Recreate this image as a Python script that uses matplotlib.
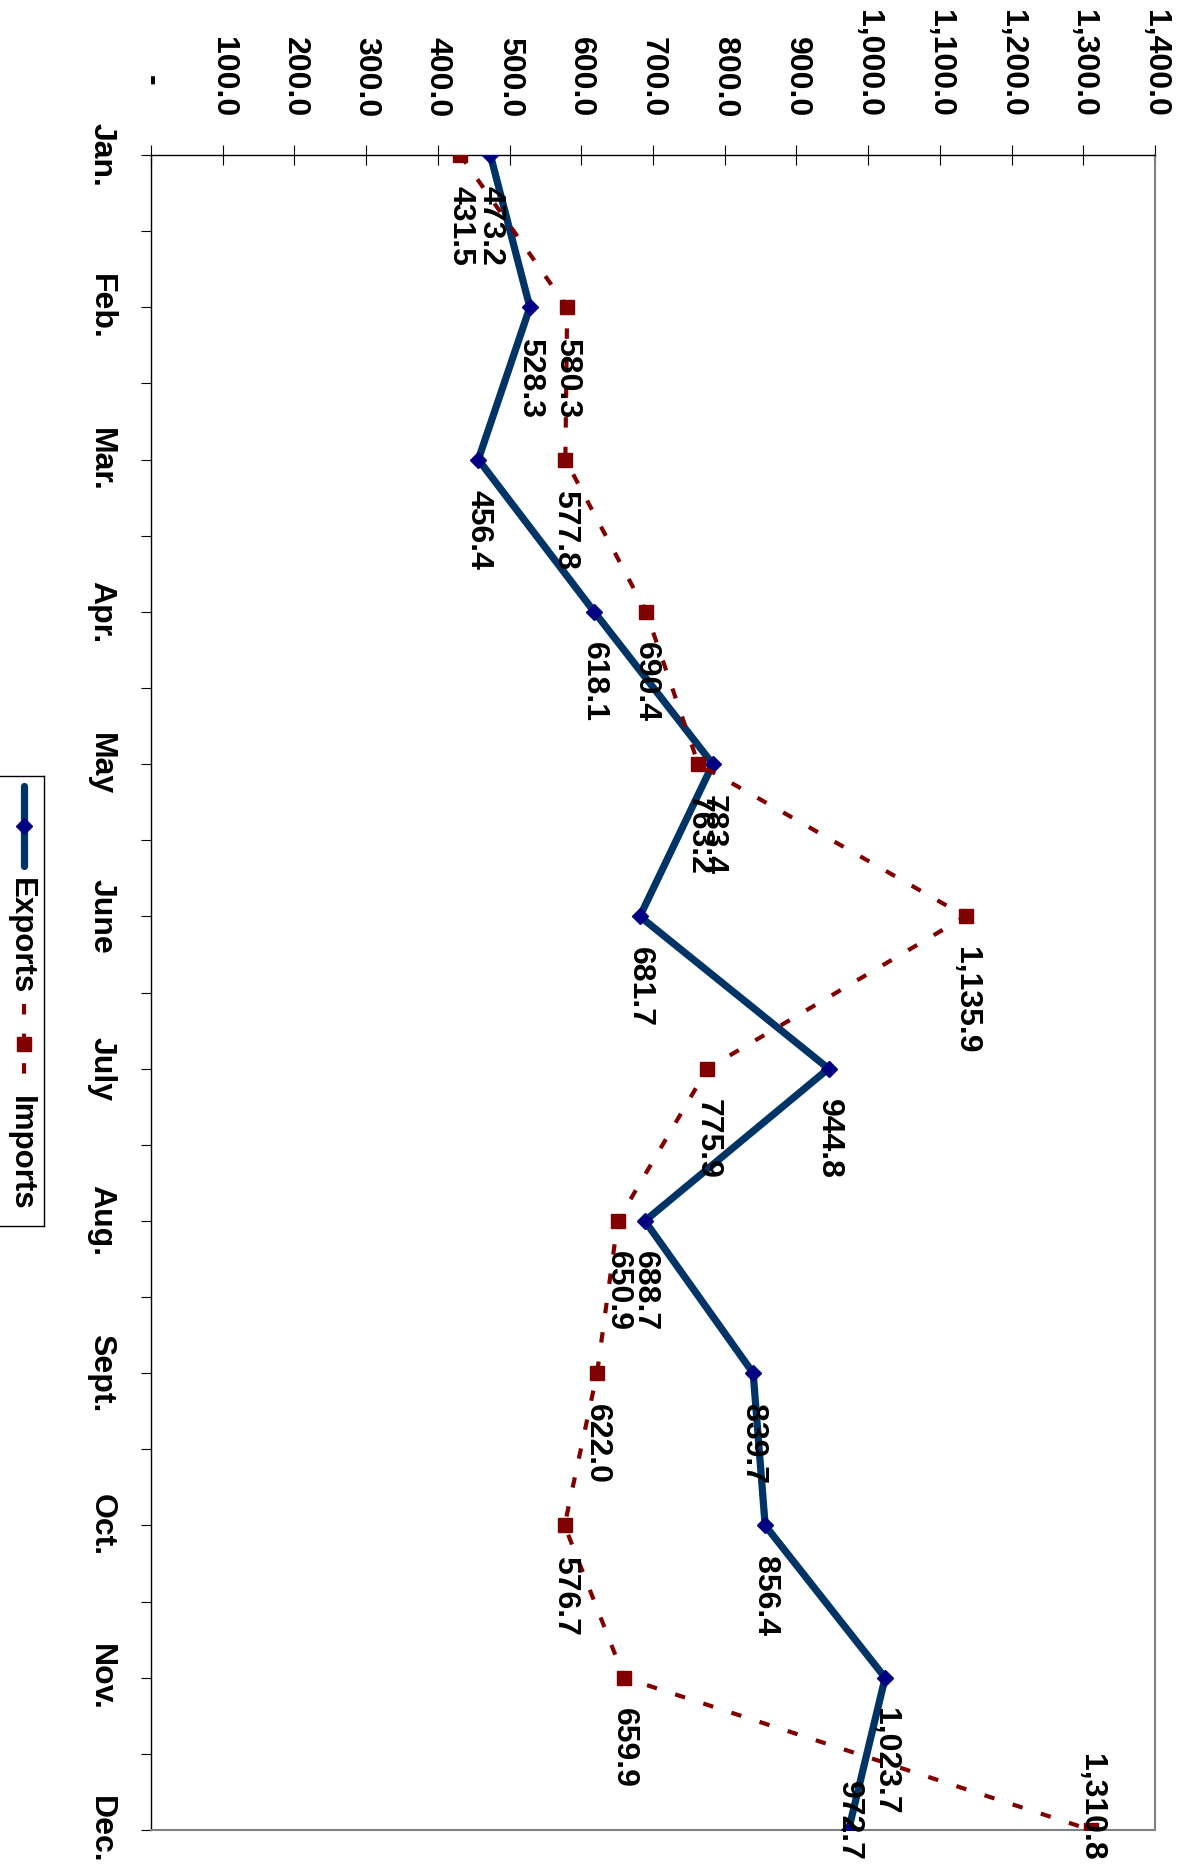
import numpy as np
import matplotlib.pyplot as plt
from matplotlib.transforms import ScaledTranslation

plt.rcParams['font.family'] = ['Liberation Sans', 'DejaVu Sans']
plt.rcParams['font.weight'] = 'bold'

# monthly values (chart is drawn rotated 90 degrees clockwise)
months = ['Jan.', 'Feb.', 'Mar.', 'Apr.', 'May', 'June', 'July', 'Aug.',
          'Sept.', 'Oct.', 'Nov.', 'Dec.']
exports = [473.2, 528.3, 456.4, 618.1, 783.4, 681.7, 944.8, 688.7,
           839.7, 856.4, 1023.7, 972.7]
imports = [431.5, 580.3, 577.8, 690.4, 763.2, 1135.9, 775.9, 650.9,
           622.0, 576.7, 659.9, 1310.8]
value_ticks = np.arange(0, 1401, 100)
value_labels = ['-'] + ['{:,.1f}'.format(v) for v in value_ticks[1:]]

W, H = 1180, 1866
fig = plt.figure(figsize=(W / 100, H / 100), dpi=100)
ax = fig.add_axes([151 / W, 36 / H, 1004 / W, 1675 / H])
pos = np.arange(len(months))

ax.plot(exports, pos, color='#003366', lw=5.2, marker='D', ms=8,
        mfc='#000080', mec='#000080', zorder=3)
ax.plot(imports, pos, color='#800000', lw=3.0, ls=(0, (2.5, 4.6)),
        marker='s', ms=10, mfc='#800000', mec='#800000', zorder=4)

# data labels, below each point; last ones pushed up to stay in the picture
for series in (exports, imports):
    for i, v in enumerate(series):
        txt = '{:,.1f}'.format(v)
        if i == len(series) - 1:
            ax.annotate(txt, xy=(v, 5), xycoords=('data', 'figure pixels'),
                        ha='center', va='bottom', rotation=-90, fontsize=23,
                        fontweight='bold', zorder=5)
        else:
            ax.annotate(txt, xy=(v, i), xytext=(0, -22),
                        textcoords='offset points', ha='center', va='top',
                        rotation=-90, fontsize=23, fontweight='bold',
                        zorder=5)

ax.set_xlim(0, 1400)
ax.set_ylim(11, 0)
ax.xaxis.tick_top()
ax.set_xticks(value_ticks)
ax.set_xticklabels(value_labels, rotation=-90, fontweight='bold')
ax.tick_params(axis='x', direction='inout', length=14.4, width=0.8,
               pad=20, labelsize=23)
ax.set_yticks(pos)
ax.set_yticklabels(months, rotation=-90, va='center', fontweight='bold')
ax.set_yticks(pos[:-1] + 0.5, minor=True)
ax.tick_params(axis='y', which='both', direction='out', length=7,
               width=0.8, pad=18, labelsize=23)

# the "-" for zero sits higher, like the accounting format does
lab0 = ax.xaxis.get_major_ticks()[0].label2
lab0.set_transform(lab0.get_transform() +
                   ScaledTranslation(0, 0.32, fig.dpi_scale_trans))

for s in ('top', 'left'):
    ax.spines[s].set_color('black')
    ax.spines[s].set_linewidth(1.0)
for s in ('right', 'bottom'):
    ax.spines[s].set_color('#808080')
    ax.spines[s].set_linewidth(1.5)

# legend, drawn by hand because it is rotated too
lg = fig.add_axes([-3 / W, (H - 1226) / H, 47 / W, 450 / H])
lg.set_xlim(-3, 44)
lg.set_ylim(1226, 776)
lg.set_xticks([])
lg.set_yticks([])
for s in lg.spines.values():
    s.set_linewidth(1.0)
    s.set_color('black')
lg.plot([24, 24, 24], [786, 826, 866], color='#003366', lw=5.2,
        marker='D', ms=8, mfc='#000080', mec='#000080', markevery=[1],
        solid_capstyle='round')
lg.plot([24, 24, 24], [1004, 1044, 1078], color='#800000', lw=3.0,
        ls=(0, (2.5, 4.6)), marker='s', ms=10, mfc='#800000',
        mec='#800000', markevery=[1])
lg.text(21, 936, 'Exports', rotation=-90, ha='center', va='center',
        fontsize=22.5, fontweight='bold')
lg.text(21, 1153, 'Imports', rotation=-90, ha='center', va='center',
        fontsize=22.5, fontweight='bold')

fig.savefig('out.png', dpi=100, facecolor='white')
